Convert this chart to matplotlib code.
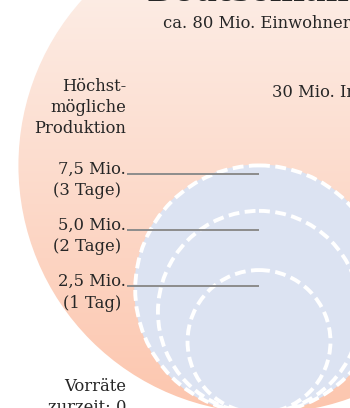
import numpy as np
import matplotlib.pyplot as plt
from matplotlib.patches import Circle
from matplotlib.colors import to_rgb

# values in Mio.
einwohner = 80
bedarf = 30
bedarf_label = "30 Mio. Infizierte"
produktion = [7.5, 5.0, 2.5]
tage = [3, 2, 1]
vorraete = 0

plt.rcParams['font.family'] = ['DejaVu Serif']
text_col = '#262626'
blue = '#dce3f2'

fig = plt.figure(figsize=(3.5, 4.08), dpi=100)
ax = fig.add_axes([0, 0, 1, 1])
ax.set_xlim(0, 350)
ax.set_ylim(408, 0)
ax.axis('off')

# area ~ value -> radius ~ sqrt(value), all circles sit on one baseline
k = 45.2
base_y = 413


def radius(v):
    return k * np.sqrt(v)


# big gradient circle (Bedarf)
R = radius(bedarf)
big = Circle((266, base_y - R), R, facecolor='none', edgecolor='none')
ax.add_patch(big)
top_c = np.array(to_rgb('#fdf3ee'))
bot_c = np.array(to_rgb('#fcc6ae'))
t = np.linspace(0, 1, 256)[:, None, None]
grad = top_c * (1 - t) + bot_c * t
im = ax.imshow(grad, extent=[266 - R, 266 + R, base_y, base_y - 2 * R],
               aspect='auto', zorder=1)
im.set_clip_path(big)

# production circles
cx = 259
r_out = radius(produktion[0])
ax.add_patch(Circle((cx, base_y - r_out), r_out + 1, facecolor=blue,
                    edgecolor='none', zorder=2))
for v in produktion:
    r = radius(v)
    ax.add_patch(Circle((cx, base_y - r), r, facecolor='none', edgecolor='white',
                        lw=2.8, linestyle=(0, (2.8, 1.4)), zorder=3))

# labels
ax.text(147, 1.0, "Deutschland", fontsize=23, fontweight='bold', color=text_col,
        va='baseline', ha='left')
ax.text(163, 28, f"ca. {einwohner} Mio. Einwohner", fontsize=11.8, color=text_col,
        va='baseline')
ax.text(272, 97, bedarf_label, fontsize=11.8, color=text_col, va='baseline')

ax.text(126, 133, "Höchst-\nmögliche\nProduktion", fontsize=11.8, color=text_col,
        ha='right', va='baseline', multialignment='right', linespacing=1.3)

row0 = 173.5
step = 56.3
for i, (v, d) in enumerate(zip(produktion, tage)):
    y = row0 + i * step
    lab = f"{v:.1f}".replace('.', ',') + " Mio."
    ax.text(126, y, lab, fontsize=11.8, color=text_col, ha='right', va='baseline',
            zorder=5)
    ax.text(121, y + 21.5, f"({d} Tag{'e' if d > 1 else ''})", fontsize=11.8,
            color=text_col, ha='right', va='baseline', zorder=5)
    ax.plot([127, cx], [y, y], color='#8c8c8c', lw=1.4, zorder=4,
            solid_capstyle='butt')

ax.text(126, 412, f"Vorräte\nzurzeit: {vorraete}", fontsize=11.8, color=text_col,
        ha='right', va='baseline', multialignment='right', linespacing=1.3)

fig.savefig('out.png', dpi=100)
